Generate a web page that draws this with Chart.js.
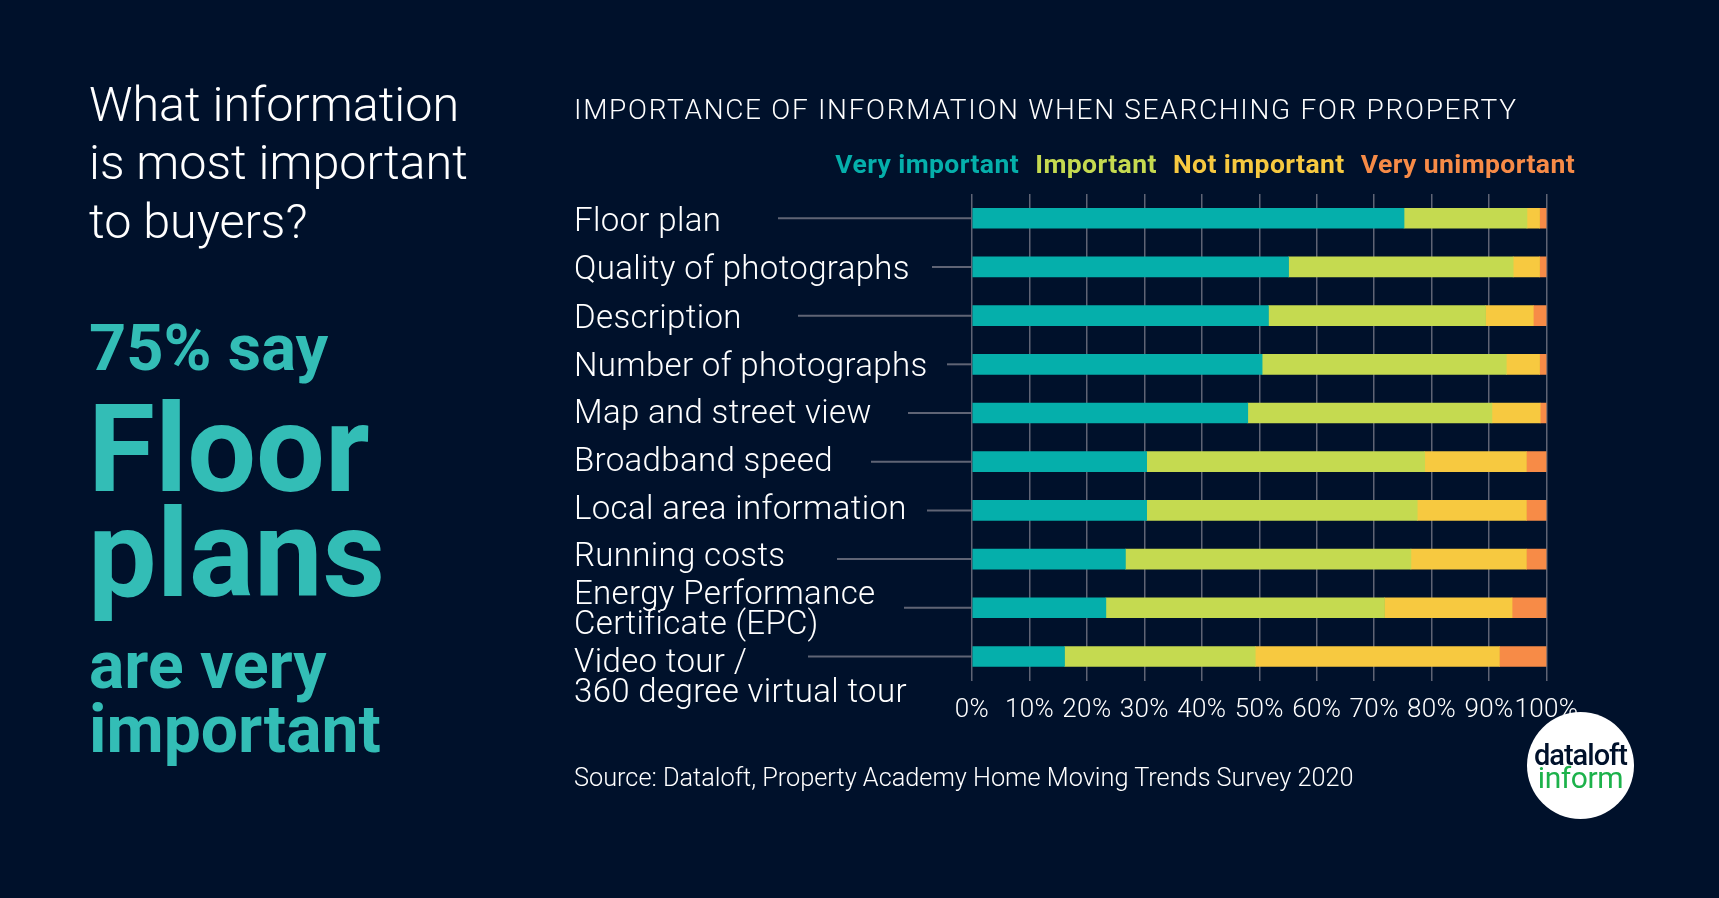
<!DOCTYPE html>
<html><head><meta charset="utf-8">
<style>
html,body{margin:0;padding:0;background:#00112B;width:1719px;height:898px;overflow:hidden;font-family:Roboto,sans-serif}
#wrap{position:relative;width:1719px;height:898px}
canvas{position:absolute;left:0;top:0}
.t{position:absolute;white-space:nowrap}
.teal{color:#33BDB6;font-weight:700}
#logo{position:absolute;left:1527px;top:712px;width:107px;height:107px;border-radius:50%;background:#fff}
#logo div{position:absolute;left:0;width:100%;text-align:center;line-height:28px;letter-spacing:-1px}
</style></head><body><div id="wrap">
<canvas id="c" width="1719" height="898"></canvas>
<div class="t" style="left:89px;top:76px;font-size:48.5px;line-height:58.4px;font-weight:300;color:#fff">What information<br>is most important<br>to buyers?</div>
<div class="t teal" style="left:89px;top:312px;font-size:65px;line-height:72px">75% say</div>
<div class="t teal" style="left:88px;top:397px;font-size:122px;line-height:105px">Floor<br>plans</div>
<div class="t teal" style="left:89px;top:634px;font-size:66px;line-height:64px">are very<br>important</div>
<div class="t" style="left:574px;top:763px;font-size:25.3px;line-height:30px;font-weight:300;color:#fff">Source: Dataloft, Property Academy Home Moving Trends Survey 2020</div>
<div id="logo"><div style="top:29px;font-size:29px;color:#00112B;font-weight:500">dataloft</div><div style="top:52px;font-size:30px;color:#1DB24B;font-weight:400;letter-spacing:-.4px">inform</div></div>
</div>
<script src="https://cdn.jsdelivr.net/npm/chart.js@4/dist/chart.umd.min.js"></script>
<script>
const categories=[["Floor plan"],["Quality of photographs"],["Description"],["Number of photographs"],["Map and street view"],["Broadband speed"],["Local area information"],["Running costs"],["Energy Performance","Certificate (EPC)"],["","Video tour /","360 degree virtual tour"]];
const veryImportant=[75.2,55.1,51.6,50.5,48.0,30.4,30.4,26.7,23.3,16.1];
const important=[21.4,39.1,37.8,42.5,42.5,48.4,47.1,49.7,48.5,33.2];
const notImportant=[2.2,4.6,8.3,5.8,8.4,17.7,19.0,20.1,22.2,42.5];
const veryUnimportant=[1.2,1.2,2.3,1.2,1.1,3.5,3.5,3.5,6.0,8.2];
const leaderLengths=[194,40,174,25,64,101,45,135,68,164];
const labelNudges=[0,-1,-1,-2,-3,-4,-5,-6.5,-2,2];
const chartTitle="IMPORTANCE OF INFORMATION WHEN SEARCHING FOR PROPERTY";
const COL={a:"#05AFAB",b:"#C5DA50",c:"#F7C940",d:"#F78B47"};
const leaders={id:"leaders",beforeDatasetsDraw(ch){
 const x0=ch.scales.x.getPixelForValue(0),y=ch.scales.y,g=ch.ctx;
 g.save();g.strokeStyle="#5F6475";g.lineWidth=2;
 leaderLengths.forEach((len,i)=>{const p=y.getPixelForValue(i);g.beginPath();g.moveTo(x0-len,p);g.lineTo(x0,p);g.stroke();});
 g.restore();}};
const BASE_SPACING="0.35px",TITLE_SPACING="1.7px",LEGEND_SPACING="0.4px";
const tweaks={id:"tweaks",
 beforeLayout(ch){
  const L=ch.legend,T=ch.titleBlock;
  if(!L._wrapped){L._wrapped=true;
   const fit=L.fit,draw=L.draw;
   L.fit=function(){const c=ch.ctx,s=c.letterSpacing;c.letterSpacing=LEGEND_SPACING;fit.call(this);c.letterSpacing=s;this.height+=3.8;};
   L.draw=function(){const c=ch.ctx,s=c.letterSpacing;c.letterSpacing=LEGEND_SPACING;this.right+=31.5;draw.call(this);this.right-=31.5;c.letterSpacing=s;};
   const td=T.draw;
   T.draw=function(){const c=ch.ctx,s=c.letterSpacing;c.letterSpacing=TITLE_SPACING;td.call(this);c.letterSpacing=s;};
  }},
 beforeDraw(ch){
  ch.ctx.letterSpacing=BASE_SPACING;
  const y=ch.scales.y,items=y.getLabelItems();
  if(!y._nudged){y._nudged=true;items.forEach((it,i)=>{it.options.translation[1]+=labelNudges[i]||0;});}
 }};
const fam="Roboto";
new Chart(document.getElementById("c"),{type:"bar",
 data:{labels:categories,datasets:[
  {label:"Very important",data:veryImportant,backgroundColor:COL.a},
  {label:"Important",data:important,backgroundColor:COL.b},
  {label:"Not important",data:notImportant,backgroundColor:COL.c},
  {label:"Very unimportant",data:veryUnimportant,backgroundColor:COL.d}]},
 plugins:[leaders,tweaks],
 options:{indexAxis:"y",responsive:false,animation:false,devicePixelRatio:1,
  barThickness:20,
  layout:{padding:{left:574,right:172.5,top:95.5,bottom:158}},
  plugins:{tooltip:{enabled:false},
   title:{display:true,text:chartTitle,align:"start",color:"#fff",font:{family:fam,size:28,weight:300,lineHeight:1.2},padding:{top:0,bottom:21.5}},
   legend:{position:"top",align:"end",labels:{boxWidth:0,boxHeight:0,padding:3,font:{family:fam,size:26.5,weight:700},
     generateLabels(ch){return ch.data.datasets.map((d,i)=>({text:d.label,fontColor:d.backgroundColor,fillStyle:"transparent",strokeStyle:"transparent",lineWidth:0,datasetIndex:i}));}}}},
  scales:{
   x:{stacked:true,min:0,max:100,position:"bottom",grid:{color:"#5F6475",lineWidth:1.5,tickLength:0},border:{display:false},
      ticks:{stepSize:10,autoSkip:false,maxRotation:0,padding:14,color:"#fff",font:{family:fam,size:26,weight:300},callback:v=>v+"%"}},
   y:{stacked:true,position:"left",grid:{display:false},border:{display:false},
      afterFit(s){s.width=398;},
      ticks:{crossAlign:"far",padding:0,labelOffset:5,autoSkip:false,color:"#fff",font:{family:fam,size:33,weight:350,lineHeight:0.91}}}
  }}});
</script></body></html>
